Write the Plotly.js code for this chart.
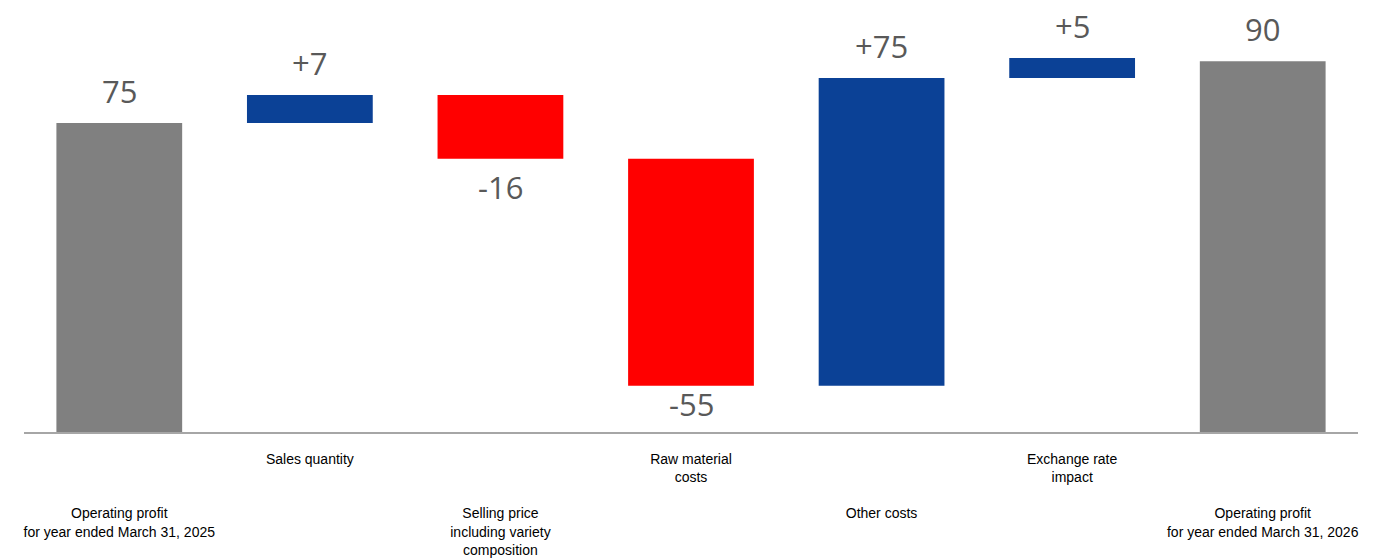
<!DOCTYPE html>
<html>
<head>
<meta charset="utf-8">
<script src="https://cdn.plot.ly/plotly-3.0.1.min.js"></script>
<style>html,body{margin:0;padding:0;background:#fff;}#chart{width:1374px;height:559px;}</style>
</head>
<body>
<div id="chart"></div>
<script>
// Data
const categories = [
  "Operating profit<br>for year ended March 31, 2025",
  "Sales quantity",
  "Selling price<br>including variety<br>composition",
  "Raw material<br>costs",
  "Other costs",
  "Exchange rate<br>impact",
  "Operating profit<br>for year ended March 31, 2026"
];
const measures = ["absolute", "relative", "relative", "relative", "relative", "relative", "absolute"];
const values = [75, 6.8, -15.5, -55.1, 74.7, 4.9, 90];
const valueLabels = ["75", "+7", "-16", "-55", "+75", "+5", "90"];

// Style
const BLUE = "#0b4196", RED = "#ff0000", GRAY = "#808080";
const labelRowPrefix = ["<br><br><br>", "", "<br><br><br>", "", "<br><br><br>", "", "<br><br><br>"];
const negOffsets = [0, 0, -28, -18, 0, 0, 0];

const ids = categories.map((c, i) => "c" + i);
const tickText = categories.map((c, i) => labelRowPrefix[i] + c);

// label anchors from running totals
let running = 0;
const annotations = [];
values.forEach((v, i) => {
  let end;
  if (measures[i] === "absolute") { running = v; end = v; }
  else { running += v; end = running; }
  const positive = measures[i] === "absolute" || v >= 0;
  annotations.push({
    x: ids[i], y: end, xref: "x", yref: "y",
    text: valueLabels[i], showarrow: false,
    yanchor: "middle",
    yshift: positive ? 32 : negOffsets[i],
    font: {family: "Open Sans, Noto Sans, sans-serif", size: 31, color: "#595959"}
  });
});

const trace = {
  type: "waterfall",
  x: ids,
  y: values,
  measure: measures,
  width: 0.66,
  increasing: {marker: {color: BLUE}},
  decreasing: {marker: {color: RED}},
  totals: {marker: {color: GRAY}},
  connector: {visible: false},
  hoverinfo: "none"
};

const layout = {
  width: 1374, height: 559,
  margin: {l: 24, r: 16, t: 20, b: 127},
  paper_bgcolor: "#fff", plot_bgcolor: "#fff",
  showlegend: false,
  xaxis: {
    type: "category",
    tickvals: ids, ticktext: tickText,
    showgrid: false, zeroline: false,
    showline: true, linecolor: "#a6a6a6", linewidth: 2,
    ticks: "",
    ticklabelstandoff: 13,
    tickfont: {family: "Liberation Sans, Arial, sans-serif", size: 14, color: "#000"},
    tickangle: 0
  },
  yaxis: {
    range: [0, 100], visible: false, showgrid: false, zeroline: false, fixedrange: true
  },
  annotations: annotations
};

Plotly.newPlot("chart", [trace], layout, {displayModeBar: false, staticPlot: true});
</script>
</body>
</html>
